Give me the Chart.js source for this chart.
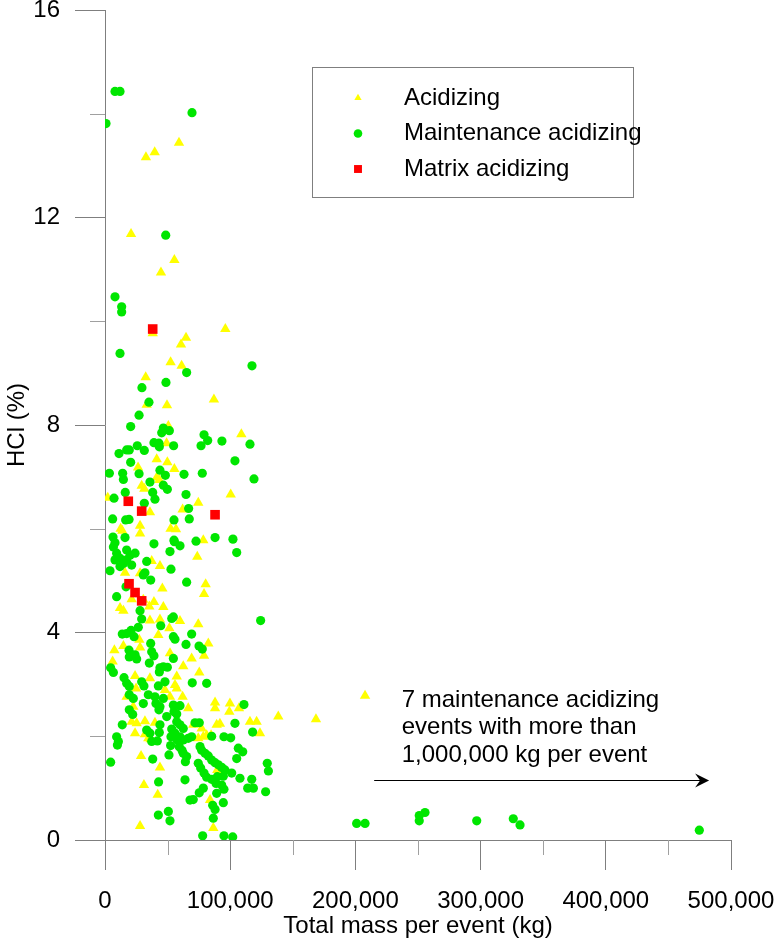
<!DOCTYPE html>
<html>
<head>
<meta charset="utf-8">
<title>HCl vs total mass per event</title>
<script src="https://cdn.jsdelivr.net/npm/chart.js@4.4.1/dist/chart.umd.min.js"></script>
<style>
    html, body { margin: 0; padding: 0; background: #fff; }
    canvas { display: block; }
</style>
</head>
<body>
<canvas id="chart" width="777" height="943"></canvas>
<script>
// values: total mass per event (kg) and HCl (%)
const acidizingX = [32700, 39700, 59100, 20800, 55400, 44700, 38100, 96100, 64700, 60700, 52400, 61200,
    32500, 33300, 49500, 87000, 50600, 108900, 49200, 41300, 49800, 55400, 26400, 41300, 43400, 29300,
    31400, 100400, 2200, 74500, 35900, 62000, 28000, 12500, 13800, 52400, 56700, 28000, 78500, 73700,
    37300, 43900, 16000, 28000, 80400, 79100, 45800, 21300, 30600, 39100, 12000, 14700, 35400, 46600,
    43900, 35900, 59900, 74500, 51400, 42600, 27400, 82500, 7500, 14700, 28000, 51900, 69200, 79100,
    6100, 62500, 75300, 57300, 24000, 35900, 55900, 57300, 47900, 24800, 17300, 51900, 62000, 87900,
    87900, 99800, 99300, 107000, 138400, 66500, 22600, 70500, 77200, 21300, 25300, 31900, 39900, 89200,
    91800, 115800, 121100, 123800, 24000, 31900, 34600, 36500, 74500, 78500, 81200, 84700, 28800, 89700,
    43900, 83900, 86500, 31100, 42100, 28000, 207700, 168500];
const acidizingY = [13.16, 13.26, 13.44, 11.68, 11.18, 10.94, 9.77, 9.85, 9.68, 9.55, 9.21, 9.14,
    8.92, 8.39, 8.38, 8.49, 7.98, 7.82, 7.65, 7.34, 7.28, 7.15, 7.18, 6.99, 6.94, 6.83,
    6.77, 6.66, 6.60, 6.50, 6.32, 6.37, 6.06, 6.00, 5.96, 6.00, 5.99, 5.91, 5.78, 5.46,
    5.38, 5.28, 5.15, 5.14, 4.93, 4.74, 4.85, 4.64, 4.63, 4.59, 4.47, 4.42, 4.50, 4.49,
    4.25, 4.23, 4.22, 4.16, 4.08, 3.95, 3.86, 3.79, 3.66, 3.74, 3.71, 3.60, 3.50, 3.55,
    3.44, 3.35, 3.23, 3.15, 3.16, 3.12, 2.99, 2.92, 2.89, 2.92, 2.76, 2.76, 2.76, 2.65,
    2.54, 2.63, 2.47, 2.54, 2.38, 2.54, 2.57, 2.22, 2.15, 2.28, 2.25, 2.29, 2.26, 2.22,
    2.24, 2.28, 2.28, 2.06, 2.06, 2.04, 1.96, 1.94, 1.96, 1.99, 2.02, 2.02, 1.62, 1.35,
    1.40, 0.77, 0.23, 1.06, 0.87, 0.27, 2.78, 2.33];

const maintenanceX = [8000, 12000, 69500, 800, 48500, 8000, 13300, 13300, 12000, 117400, 65200, 48700,
    29500, 35100, 27200, 20500, 46600, 45300, 51400, 79100, 82000, 115800, 93400, 76700, 54800, 39100,
    43100, 43400, 25800, 19400, 17300, 31400, 11200, 20500, 103800, 3500, 14100, 14700, 27200, 43900,
    48200, 63100, 77700, 119000, 35900, 46600, 49800, 16200, 38100, 39900, 64700, 7200, 31400, 66800,
    67300, 6100, 16500, 19200, 55100, 87900, 102200, 55100, 72700, 39100, 6400, 8000, 16000, 6700,
    9300, 8000, 12000, 14700, 17300, 20000, 21300, 24000, 17300, 12000, 4000, 55400, 59900, 51900,
    105200, 33300, 52700, 31900, 30600, 36500, 65200, 16800, 9300, 28000, 54600, 53300, 29300, 124300,
    44500, 26600, 13800, 17300, 20800, 23200, 54600, 55900, 69200, 36500, 64700, 75100, 77700, 19200,
    37300, 39100, 19400, 24000, 25300, 54600, 35400, 43900, 46600, 49800, 43400, 4500, 6700, 15200,
    17300, 19400, 29300, 31100, 42600, 47900, 69700, 81200, 34600, 39900, 46600, 19400, 22600, 30600,
    40700, 43900, 54600, 59900, 111000, 19400, 22100, 43100, 49300, 55100, 57300, 57300, 59900, 62500,
    71900, 75300, 13800, 103800, 117900, 33300, 35900, 43900, 43400, 53300, 52700, 55900, 59900, 57700,
    62500, 66500, 69200, 85200, 95000, 100400, 75900, 77200, 79900, 82500, 85200, 87900, 90500, 93200,
    95800, 106500, 110000, 105200, 37300, 41800, 52400, 9300, 10700, 9900, 59300, 61500, 62500, 65200,
    64200, 51100, 38100, 4500, 74500, 76400, 79100, 81200, 85200, 89700, 94500, 101200, 107800, 117200,
    118500, 114000, 129600, 130500, 128300, 93200, 95000, 88700, 89200, 94500, 86000, 87900, 86500, 78500,
    75300, 70500, 67900, 63900, 42800, 50600, 51900, 42600, 78000, 95000, 102000,
    201000, 207700, 251000, 255600, 251000, 296900, 326100, 331500, 474700];
const maintenanceY = [14.43, 14.43, 14.02, 13.81, 11.66, 10.47, 10.28, 10.18, 9.38, 9.14, 9.01, 8.82,
    8.72, 8.44, 8.19, 7.97, 7.94, 7.85, 7.89, 7.81, 7.70, 7.63, 7.69, 7.60, 7.60, 7.66,
    7.65, 7.58, 7.60, 7.52, 7.52, 7.51, 7.45, 7.28, 7.31, 7.07, 7.07, 6.95, 7.06, 7.13,
    7.03, 7.05, 7.07, 6.96, 6.90, 6.84, 6.76, 6.70, 6.70, 6.57, 6.66, 6.59, 6.49, 6.39,
    6.19, 6.19, 6.17, 6.18, 6.17, 5.83, 5.80, 5.78, 5.76, 5.71, 5.84, 5.73, 5.83, 5.65,
    5.53, 5.40, 5.43, 5.33, 5.40, 5.49, 5.30, 5.53, 5.59, 5.27, 5.19, 5.75, 5.67, 5.56,
    5.54, 5.37, 5.22, 5.15, 5.11, 5.01, 4.97, 4.88, 4.69, 4.42, 4.30, 4.27, 4.26, 4.23,
    4.13, 4.10, 3.97, 3.98, 4.04, 3.92, 3.92, 3.87, 3.97, 3.79, 3.77, 3.74, 3.68, 3.66,
    3.63, 3.55, 3.53, 3.57, 3.49, 3.50, 3.41, 3.32, 3.34, 3.33, 3.24, 3.32, 3.23, 3.13,
    3.02, 2.96, 3.05, 2.97, 2.97, 3.05, 3.03, 3.02, 2.80, 2.76, 2.73, 2.80, 2.73, 2.63,
    2.63, 2.57, 2.60, 2.59, 2.61, 2.51, 2.42, 2.51, 2.38, 2.47, 2.43, 2.28, 2.22, 2.15,
    2.26, 2.26, 2.22, 2.25, 2.08, 2.12, 2.06, 2.22, 2.07, 2.14, 1.99, 2.06, 1.99, 1.93,
    1.93, 1.96, 1.99, 2.00, 1.99, 1.97, 1.80, 1.73, 1.67, 1.62, 1.54, 1.49, 1.45, 1.40,
    1.35, 1.77, 1.70, 1.57, 1.90, 1.91, 1.82, 1.99, 1.90, 1.83, 1.80, 1.73, 1.67, 1.61,
    1.51, 1.64, 1.56, 1.50, 1.48, 1.39, 1.29, 1.21, 1.17, 1.22, 1.23, 1.29, 1.19, 1.17,
    1.00, 1.00, 1.48, 1.33, 0.93, 1.06, 0.98, 1.09, 0.90, 0.72, 0.67, 0.59, 0.42, 1.00,
    0.91, 0.78, 0.77, 1.16, 1.12, 0.55, 0.37, 0.48, 0.08, 0.08, 0.06,
    0.32, 0.32, 0.47, 0.53, 0.37, 0.37, 0.41, 0.29, 0.19];

const matrixX = [38100, 18600, 29300, 87900, 19200, 24000, 29300];
const matrixY = [9.85, 6.53, 6.34, 6.27, 4.94, 4.77, 4.61];

const seriesNames = ['Acidizing', 'Maintenance acidizing', 'Matrix acidizing'];
const xTicks = [0, 100000, 200000, 300000, 400000, 500000];
const yTicks = [0, 4, 8, 12, 16];
const xMinorTicks = [50000, 150000, 250000, 350000, 450000];
const yMinorTicks = [2, 6, 10, 14];
const noteLines = ['7 maintenance acidizing', 'events with more than', '1,000,000 kg per event'];

const FONT = "'Liberation Sans', Arial, sans-serif";
const AXIS_GREY = '#7f7f7f';

function toPoints(xs, ys) {
    return xs.map((x, i) => ({x: x, y: ys[i]}));
}

const datasets = [
    {
        label: seriesNames[0],
        data: toPoints(acidizingX, acidizingY),
        pointStyle: 'triangle',
        pointRadius: 6,
        backgroundColor: '#ffff00',
        borderWidth: 0,
        order: 3,
    },
    {
        label: seriesNames[1],
        data: toPoints(maintenanceX, maintenanceY),
        pointStyle: 'circle',
        pointRadius: 4.6,
        backgroundColor: '#00e600',
        borderWidth: 0,
        order: 2,
    },
    {
        label: seriesNames[2],
        data: toPoints(matrixX, matrixY),
        pointStyle: 'rect',
        pointRadius: 6.8,
        backgroundColor: '#ff0000',
        borderWidth: 0,
        order: 1,
    },
];

//short minor tick marks, legend box and the arrow note
const extras = {
    id: 'extras',
    afterDraw(chart) {
        const ctx = chart.ctx;
        const xs = chart.scales.x;
        const ys = chart.scales.y;
        const area = chart.chartArea;
        ctx.save();

        ctx.strokeStyle = '#a0a0a0';
        ctx.lineWidth = 1;
        ctx.beginPath();
        yMinorTicks.forEach(v => {
            const py = Math.round(ys.getPixelForValue(v)) + 0.5;
            ctx.moveTo(area.left - 15, py);
            ctx.lineTo(area.left, py);
        });
        xMinorTicks.forEach(v => {
            const px = Math.round(xs.getPixelForValue(v)) + 0.5;
            ctx.moveTo(px, area.bottom);
            ctx.lineTo(px, area.bottom + 15);
        });
        ctx.stroke();

        // legend box
        const box = {left: 312, top: 67, right: 633, bottom: 197};
        ctx.strokeStyle = AXIS_GREY;
        ctx.strokeRect(box.left + 0.5, box.top + 0.5, box.right - box.left, box.bottom - box.top);
        ctx.font = '24px ' + FONT;
        ctx.fillStyle = '#000';
        ctx.textBaseline = 'middle';
        ctx.textAlign = 'left';
        const legendRadius = [4.2, 4.3, 5.6];
        datasets.forEach((ds, i) => {
            const cy = 98 + i * 35.5;
            ctx.fillStyle = ds.backgroundColor;
            Chart.helpers.drawPoint(ctx, {
                pointStyle: ds.pointStyle,
                radius: legendRadius[i],
                rotation: 0,
                borderWidth: 0,
            }, 358, cy);
            ctx.fillStyle = '#000';
            ctx.fillText(ds.label, 404, cy);
        });

        // note about the very large events
        const noteX = xs.getPixelForValue(237000);
        const noteY = ys.getPixelForValue(2.70);
        noteLines.forEach((t, i) => ctx.fillText(t, noteX, noteY + i * 27.5));

        const ay = Math.round(ys.getPixelForValue(1.16)) + 0.5;
        const ax0 = xs.getPixelForValue(215000);
        const ax1 = xs.getPixelForValue(482500);
        ctx.strokeStyle = '#000';
        ctx.lineWidth = 1;
        ctx.beginPath();
        ctx.moveTo(ax0, ay);
        ctx.lineTo(ax1 - 4, ay);
        ctx.stroke();
        ctx.beginPath();
        ctx.moveTo(ax1, ay);
        ctx.lineTo(ax1 - 14, ay - 7);
        ctx.lineTo(ax1 - 9, ay);
        ctx.lineTo(ax1 - 14, ay + 7);
        ctx.closePath();
        ctx.fill();

        ctx.restore();
    }
};

const ctx = document.getElementById('chart').getContext('2d');
const chart = new Chart(ctx, {
    type: 'scatter',
    data: {datasets: datasets},
    options: {
        responsive: false,
        animation: false,
        events: [],
        layout: {padding: {top: 10, right: 46, bottom: 0, left: 0}},
        plugins: {
            legend: {display: false},
            tooltip: {enabled: false},
        },
        scales: {
            x: {
                type: 'linear',
                min: 0,
                max: 500000,
                afterBuildTicks: (scale) => { scale.ticks = xTicks.map(v => ({value: v})); },
                afterFit: (scale) => {
                    scale.height = 103;
                    scale.paddingLeft = 0;
                    scale.paddingRight = 0;
                },
                ticks: {
                    padding: 17,
                    maxRotation: 0,
                    autoSkip: false,
                    color: '#000',
                    font: {family: FONT, size: 24},
                    callback: (v) => v.toLocaleString('en-US'),
                },
                grid: {
                    drawOnChartArea: false,
                    tickLength: 30,
                    color: AXIS_GREY,
                },
                border: {color: AXIS_GREY, width: 1},
                title: {
                    display: true,
                    text: 'Total mass per event (kg)',
                    color: '#000',
                    font: {family: FONT, size: 24},
                    padding: {top: 0, bottom: 2},
                },
            },
            y: {
                type: 'linear',
                min: 0,
                max: 16,
                afterBuildTicks: (scale) => { scale.ticks = yTicks.map(v => ({value: v})); },
                afterFit: (scale) => {
                    scale.width = 105;
                    scale.paddingTop = 0;
                    scale.paddingBottom = 0;
                },
                ticks: {
                    padding: 15,
                    autoSkip: false,
                    color: '#000',
                    font: {family: FONT, size: 24},
                },
                grid: {
                    drawOnChartArea: false,
                    tickLength: 30,
                    color: AXIS_GREY,
                },
                border: {color: AXIS_GREY, width: 1},
                title: {
                    display: true,
                    text: 'HCl (%)',
                    color: '#000',
                    font: {family: FONT, size: 24},
                    padding: {top: 3, bottom: 0},
                },
            },
        },
    },
    plugins: [extras],
});
</script>
</body>
</html>
